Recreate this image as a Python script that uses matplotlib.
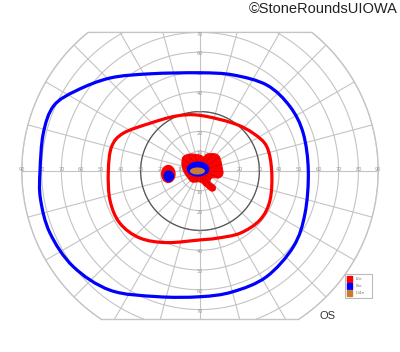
import numpy as np
import matplotlib.pyplot as plt
from matplotlib.patches import Polygon, Rectangle, PathPatch
from matplotlib.path import Path

# isopter I4e (blue): meridian angle (deg) and eccentricity (deg)
blue_ang = [90, 71, 52, 35.5, 20, 0, -22, -39, -58, -75, -90, -109, -127, -143, -157.5, -170, 180, 166.5, 156, 147, 134, 117]
blue_ecc = [49.6, 51.3, 55, 55.9, 55.5, 54.7, 57.2, 60.7, 63.1, 63.2, 63.5, 67.1, 75.4, 80.2, 82, 81.8, 80.8, 81.4, 80.9, 74.5, 65.3, 55.1]

# isopter I2e (red)
red_ang = [90, 55, 35, 20, 0, -22.5, -39, -57, -76, -90, -115, -132, -147, -162, 180, 164.6, 153.8, 136.3, 113]
red_ecc = [28.1, 29.4, 33, 35.9, 36.2, 38.3, 39.1, 37.4, 35, 34.8, 39.9, 45.5, 48.3, 47.8, 46.3, 46.3, 43.2, 34.9, 30.2]

# central islands (x, y in degrees)
red_blob_x = [-8.6, -5.1, 0, 2.0, 3.5, 8.1, 10.1, 11.1, 11.6, 9.6, 6.1, 5.1, 7.6, 7.6, 5.6, 2.5, 0, -4.0, -6.1, -8.1, -9.1]
red_blob_y = [7.1, 8.6, 8.1, 7.1, 8.6, 8.6, 6.6, 2.5, -1.5, -3.5, -3.5, -5.6, -7.6, -9.6, -10.1, -7.6, -5.6, -5.6, -3.5, -0.5, 3.0]
islands = {
    # name: (cx, cy, half-width, half-height) in degrees
    'blue_c': (-1.0, 1.0, 5.7, 3.8),
    'orange_c': (-1.3, 0.0, 3.8, 1.8),
    'red_l': (-16.0, -1.5, 3.7, 4.6),
    'blue_l': (-15.8, -2.6, 2.7, 2.9),
}

rings = [10, 20, 30, 40, 50, 60, 70, 80, 90]
meridians = np.arange(0, 360, 15)
h_labels = [10, 20, 30, 40, 50, 60, 70, 80, 90]
v_labels = [10, 20, 30, 40, 50, 60, 70]

legend_names = ['I2e', 'I4e', 'III4e']
legend_colors = ['#ff0000', '#0000ff', '#cc7a33']

S = 1.98  # pixels per degree
fig = plt.figure(figsize=(4.0, 3.52), dpi=100)
ax = fig.add_axes([0, 0, 1, 1])
ax.set_xlim(-200 / S, 200 / S)
ax.set_ylim(-181 / S, 171 / S)
ax.set_aspect('equal')
ax.axis('off')

grid_c = '#c4c4c4'
top, bot = 70, -75
t = np.linspace(0, 2 * np.pi, 721)
# chart outline: outer circle cut by two horizontal lines
a_top = np.degrees(np.arcsin(top / 90))
a_bot = np.degrees(np.arcsin(bot / 90))
arc1 = np.radians(np.linspace(a_bot, a_top, 200))
arc2 = np.radians(np.linspace(180 - a_top, 180 - a_bot, 200))
ox = np.concatenate([90 * np.cos(arc1), 90 * np.cos(arc2)])
oy = np.concatenate([90 * np.sin(arc1), 90 * np.sin(arc2)])
clip = Polygon(np.column_stack([ox, oy]), closed=True, facecolor='none', edgecolor=grid_c, lw=1.0)
ax.add_patch(clip)

for r in rings:
    ln, = ax.plot(r * np.cos(t), r * np.sin(t), color=grid_c, lw=0.8)
    ln.set_clip_path(clip)
for a in meridians:
    r0 = 0 if a % 90 == 0 else 5
    ar = np.radians(a)
    ln, = ax.plot([r0 * np.cos(ar), 95 * np.cos(ar)], [r0 * np.sin(ar), 95 * np.sin(ar)], color=grid_c, lw=0.8)
    ln.set_clip_path(clip)
ax.plot(30 * np.cos(t), 30 * np.sin(t), color='#555555', lw=0.9)

for v in h_labels:
    for sgn in (-1, 1):
        ax.text(sgn * v, 0.7, str(v), fontsize=3.6, color='#999999', ha='center', va='center')
for v in v_labels:
    for sgn in (-1, 1):
        ax.text(0, sgn * v - 0.9, str(v), fontsize=3.6, color='#999999', ha='center', va='center')


def smooth_path(x, y):
    # closed Catmull-Rom curve through the points, drawn as cubic Beziers
    p = np.column_stack([x, y])
    n = len(p)
    verts = [p[0]]
    codes = [Path.MOVETO]
    for i in range(n):
        p0, p1, p2, p3 = p[i - 1], p[i], p[(i + 1) % n], p[(i + 2) % n]
        verts += [p1 + (p2 - p0) / 6, p2 - (p3 - p1) / 6, p2]
        codes += [Path.CURVE4] * 3
    return Path(verts, codes)


def iso(ang, ecc):
    ang = np.radians(np.asarray(ang))
    ecc = np.asarray(ecc)
    return smooth_path(ecc * np.cos(ang), ecc * np.sin(ang))


ax.add_patch(PathPatch(iso(blue_ang, blue_ecc), facecolor='none', edgecolor='#0000ff', lw=2.3, zorder=3))
ax.add_patch(PathPatch(iso(red_ang, red_ecc), facecolor='none', edgecolor='#ff0000', lw=2.3, zorder=3))


def blob(key, color, z):
    x0, y0, w, h = islands[key]
    ax.fill(x0 + w * np.cos(t), y0 + h * np.sin(t), color=color, zorder=z, lw=0)


blob_patch = PathPatch(smooth_path(red_blob_x, red_blob_y), facecolor='#ff0000', edgecolor='#ff0000', lw=0.6, zorder=4)
ax.add_patch(blob_patch)
blob('red_l', '#ff0000', 4)
for a in np.arange(0, 360, 18):
    ar = np.radians(a)
    ln, = ax.plot([0, 14 * np.cos(ar)], [0, 14 * np.sin(ar)], color='#c40000', lw=0.5, zorder=4.5)
    ln.set_clip_path(blob_patch)
blob('blue_c', '#0000ff', 5)
blob('blue_l', '#0000ff', 5)
blob('orange_c', '#cc7a33', 6)

# legend box
lx, ly = 73.2, -64.0
ax.add_patch(Rectangle((lx, ly), 13.6, 12.0, facecolor='white', edgecolor='#bbbbbb', lw=0.8, zorder=7))
for i, (nm, col) in enumerate(zip(legend_names, legend_colors)):
    yy = ly + 9.6 - i * 3.7
    ax.add_patch(Rectangle((lx + 0.8, yy - 1.5), 3.0, 3.0, color=col, zorder=8))
    ax.text(lx + 5.5, yy, nm, fontsize=3.2, color='#777777', va='center', zorder=8)

ax.text(64.5, -73.2, 'OS', fontsize=8, color='#333333', ha='center', va='center',
        family=['Liberation Sans', 'DejaVu Sans'])
fig.text(0.995, 0.995, '©StoneRoundsUIOWA', fontsize=10.5, color='#222222', ha='right', va='top',
         family=['Liberation Sans', 'DejaVu Sans'])

fig.savefig('out.png', dpi=100)
